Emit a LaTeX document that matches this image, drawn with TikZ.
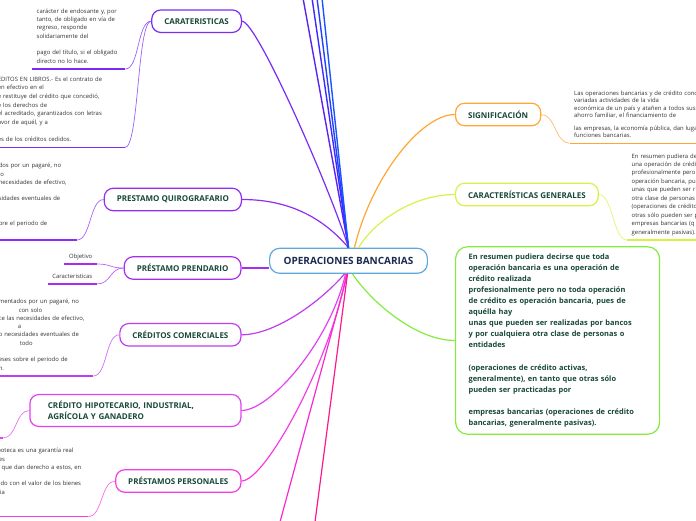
\documentclass[tikz,border=0pt]{standalone}
\usepackage{fontspec}
\setmainfont{Open Sans}
\usetikzlibrary{positioning}
\definecolor{hubline}{RGB}{94,168,221}
\definecolor{hubtext}{RGB}{27,42,78}
\definecolor{topictext}{RGB}{24,72,58}
\definecolor{leaftext}{RGB}{51,51,51}
\definecolor{colcarat}{RGB}{122,44,245}
\definecolor{colquiro}{RGB}{146,44,245}
\definecolor{colprend}{RGB}{168,44,240}
\definecolor{colcomer}{RGB}{192,60,240}
\definecolor{colhipo}{RGB}{226,66,240}
\definecolor{colpers}{RGB}{246,60,226}
\definecolor{colsig}{RGB}{255,166,52}
\definecolor{colgen}{RGB}{218,240,72}
\definecolor{colres}{RGB}{132,236,62}
\definecolor{coltopA}{RGB}{92,36,240}
\definecolor{coltopB}{RGB}{62,42,255}
\definecolor{coltopC}{RGB}{40,62,255}
\definecolor{coltopD}{RGB}{24,84,255}
\definecolor{colbotA}{RGB}{250,40,210}
\definecolor{colbotB}{RGB}{255,24,140}
\newcommand{\indentleaf}[2]{\makebox[\hsize][l]{\hspace*{#1}#2}}
\tikzset{
  hub/.style={draw=hubline,fill=white,line width=1.2pt,rounded corners=10pt,
              font=\fontsize{10}{12}\selectfont\bfseries,text=hubtext,
              inner xsep=14pt,minimum height=25pt},
  topic/.style={draw=#1,fill=white,line width=1.2pt,rounded corners=9pt,
              font=\fontsize{8}{11}\selectfont\bfseries,text=topictext,
              inner xsep=12.5pt,minimum height=22.5pt},
  leaf/.style={font=\fontsize{5.9}{8.3}\selectfont,text=leaftext,align=left,
              inner xsep=4.5pt,inner ysep=3.2pt,execute at end node=\strut},
  branch/.style={draw=#1,line width=1.2pt},
  twig/.style={draw=#1!75,line width=.7pt},
  underl/.style={draw=#1,line width=1.2pt},
}
\begin{document}
\begin{tikzpicture}[x=1pt,y=-1pt]
  \useasboundingbox (0,0) rectangle (696,520);
  % ---------------- centre ----------------
  \node[hub] (root) at (348.5,260.8) {OPERACIONES BANCARIAS};
  % ---------------- left topics ----------------
  \node[topic=colcarat,anchor=east] (carat) at (242,21.2) {CARATERISTICAS};
  \node[topic=colquiro,anchor=east] (quiro) at (242,199.5) {PRESTAMO QUIROGRAFARIO};
  \node[topic=colprend,anchor=east] (prend) at (241.5,268) {PRÉSTAMO PRENDARIO};
  \node[topic=colcomer,anchor=east] (comer) at (241.5,334.8) {CRÉDITOS COMERCIALES};
  \node[topic=colhipo,anchor=east,align=left,text width=175pt,inner xsep=18pt,
        minimum height=32pt] (hipo) at (241.5,410.5)
        {CRÉDITO HIPOTECARIO, INDUSTRIAL,\\AGRÍCOLA Y GANADERO};
  \node[topic=colpers,anchor=east] (pers) at (241.5,481) {PRÉSTAMOS PERSONALES};
  % ---------------- right topics ----------------
  \node[topic=colsig,anchor=west] (sig) at (455,114.5) {SIGNIFICACIÓN};
  \node[topic=colgen,anchor=west] (gen) at (455,194.5) {CARACTERÍSTICAS GENERALES};
  \node[topic=colres,anchor=west,rounded corners=12pt,align=left,text width=178pt,
        inner xsep=13pt,minimum height=187.5pt,
        font=\fontsize{7.45}{11.07}\selectfont\bfseries] (resumen) at (455,340.5)
        {En resumen pudiera decirse que toda\\
         operación bancaria es una operación de\\
         crédito realizada\\
         profesionalmente pero no toda operación\\
         de crédito es operación bancaria, pues de\\
         aquélla hay\\
         unas que pueden ser realizadas por bancos\\
         y por cualquiera otra clase de personas o\\
         entidades\\
         ~\\
         (operaciones de crédito activas,\\
         generalmente), en tanto que otras sólo\\
         pueden ser practicadas por\\
         ~\\
         empresas bancarias (operaciones de crédito\\
         bancarias, generalmente pasivas).};
  % ---------------- leaves ----------------
  \node[leaf,text width=84pt,anchor=south west] (caratA) at (32,69)
        {carácter de endosante y, por\\tanto, de obligado en vía de\\regreso, responde\\
         solidariamente del\\~\\pago del título, si el obligado\\directo no lo hace.};
  \node[leaf,font=\fontsize{5.9}{8.6}\selectfont,text width=122.5pt,anchor=south east]
        (caratB) at (125,147.5)
        {ÉDITOS EN LIBROS.- Es el contrato de\\en efectivo en el\\
         e restituye del crédito que concedió,\\e los derechos de\\
         el acreditado, garantizados con letras\\avor de aquél, y a\\~\\
         es de los créditos cedidos.};
  \node[leaf,text width=73.5pt,anchor=south east] (quiroA) at (77,240)
        {dos por un pagaré, no\\lo\\necesidades de efectivo,\\~\\sidades eventuales de\\
         ~\\~\\bre el periodo de\\~};
  \node[leaf,anchor=south east] (prendA) at (97,264) {Objetivo};
  \node[leaf,anchor=south east] (prendB) at (97,284) {Caracteristicas};
  \node[leaf,text width=89.8pt,anchor=south east] (comerA) at (93.3,376)
        {mentados por un pagaré, no\\\indentleaf{20pt}{con solo}\\
         ce las necesidades de efectivo,\\\indentleaf{19pt}{a}\\
         o necesidades eventuales de\\\indentleaf{21pt}{todo}\\~\\
         eses sobre el periodo de\\n.};
  \coordinate (hipoA) at (3,438);
  \coordinate (hipoAend) at (-6,438);
  \node[leaf,text width=86.3pt,anchor=south east] (persA) at (88.3,516.7)
        {poteca es una garantía real\\les\\r que dan derecho a estos, en\\~\\
         ado con el valor de los bienes\\cia\\~\\~};
  \node[leaf,font=\fontsize{5.9}{7.5}\selectfont,text width=200pt,anchor=south west]
        (sigA) at (569.5,143.3)
        {Las operaciones bancarias y de crédito conc\\variadas actividades de la vida\\
         económica de un país y atañen a todos sus g\\ahorro familiar, el financiamiento de\\[5pt]
         las empresas, la economía pública, dan lugar\\funciones bancarias.};
  \node[leaf,font=\fontsize{5.9}{8.45}\selectfont,text width=120pt,anchor=south west]
        (genA) at (627,240)
        {En resumen pudiera de\\una operación de crédi\\profesionalmente pero\\
         operación bancaria, pu\\unas que pueden ser r\\otra clase de personas\\
         (operaciones de crédito\\otras sólo pueden ser p\\empresas bancarias (q\\
         generalmente pasivas).};
  % ---------------- off-page ends ----------------
  \coordinate (topA) at (303,-2);
  \coordinate (topB) at (312,-2);
  \coordinate (topC) at (317,-2);
  \coordinate (topD) at (322,-2);
  \coordinate (botA) at (280,522);
  \coordinate (botB) at (315,522);
  % ---------------- underlines ----------------
  \foreach \n/\c in {caratA/colcarat,caratB/colcarat,quiroA/colquiro,prendA/colprend,
                     prendB/colprend,comerA/colcomer,persA/colpers,sigA/colsig,genA/colgen}
    \draw[underl=\c] (\n.south west) -- (\n.south east);
  \draw[underl=colhipo] (hipoAend) -- (hipoA);
  % ---------------- branches ----------------
  \draw[branch=colcarat] (root.north) .. controls +(-18,-58) and +(15,0) .. (carat.east);
  \draw[branch=colquiro] (root.north) .. controls +(-28,-33) and +(43,0) .. (quiro.east);
  \draw[branch=colprend] (prend.east) -- (prend.east -| root.west);
  \draw[branch=colcomer] ([xshift=-4pt]root.south) .. controls +(-23,27) and +(34,0) .. (comer.east);
  \draw[branch=colhipo] ([xshift=-3pt]root.south) .. controls +(-15,67) and +(29,0) .. (hipo.east);
  \draw[branch=colpers] ([xshift=-2pt]root.south) .. controls +(-16,87) and +(24,0) .. (pers.east);
  \draw[branch=colsig] ([xshift=6pt]root.north) .. controls +(16,-68) and +(-35,0) .. (sig.west);
  \draw[branch=colgen] ([xshift=10pt]root.north) .. controls +(17,-28) and +(-40,0) .. (gen.west);
  \draw[branch=colres] ([xshift=4pt]root.south) .. controls +(18,27) and +(-40,0) .. (resumen.west);
  \foreach \t/\c in {topA/coltopA,topB/coltopB,topC/coltopC,topD/coltopD}
    \draw[branch=\c,line width=1.4pt] (root.north) -- (\t);
  \draw[branch=colbotA] ([xshift=-1pt]root.south) -- (botA);
  \draw[branch=colbotB] ([xshift=-1pt]root.south) -- (botB);
  % ---------------- twigs ----------------
  \foreach \a/\b/\c in {carat/caratA/colcarat,carat/caratB/colcarat,quiro/quiroA/colquiro,
                        prend/prendA/colprend,prend/prendB/colprend,comer/comerA/colcomer,
                        pers/persA/colpers}
    \draw[twig=\c] (\a.west) .. controls +(-14,0) and +(14,0) .. (\b.south east);
  \draw[twig=colhipo] (hipo.west) .. controls +(-14,0) and +(14,0) .. (hipoA);
  \draw[twig=colsig] (sig.east) .. controls +(14,0) and +(-14,0) .. (sigA.south west);
  \draw[twig=colgen] (gen.east) .. controls +(14,0) and +(-14,0) .. (genA.south west);
\end{tikzpicture}
\end{document}
